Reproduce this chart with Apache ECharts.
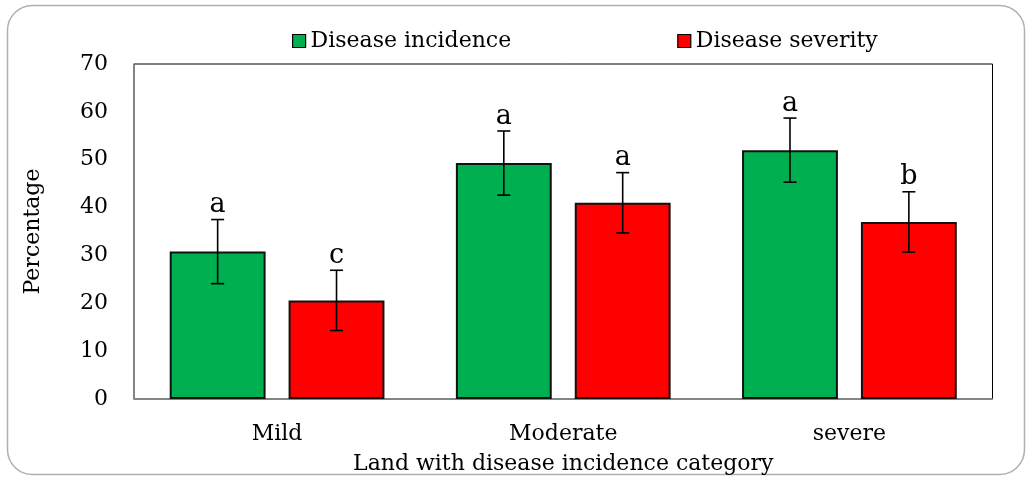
<!DOCTYPE html>
<html>
<head>
<meta charset="utf-8">
<script src="https://cdn.jsdelivr.net/npm/echarts@6/dist/echarts.min.js"></script>
<style>html,body{margin:0;padding:0;background:#fff;}#c{width:1032px;height:478px;}</style>
</head>
<body>
<div id="c"></div>
<script>
const categories = ['Mild', 'Moderate', 'severe'];
const seriesNames = ['Disease incidence', 'Disease severity'];
const incidence = [30.8, 49.3, 52.0];
const severity = [20.6, 41.0, 37.0];
const incidenceErr = [6.7, 6.7, 6.7];
const severityErr = [6.3, 6.3, 6.3];
const incidenceLetters = ['a', 'a', 'a'];
const severityLetters = ['c', 'a', 'b'];
const yTicks = [0, 10, 20, 30, 40, 50, 60, 70];

const FONT = 'DejaVu Serif';
const BAR_W = 0.335, BAR_GAP = 0.24;

function errSeries(vals, errs, letters, side) {
  return {
    type: 'custom',
    z: 5,
    encode: { x: 0, y: 1 },
    data: vals.map((v, i) => [i, v, errs[i]]),
    renderItem: function (params, api) {
      const i = api.value(0), v = api.value(1), e = api.value(2);
      const band = api.size([1, 0])[0];
      const bw = band * BAR_W;
      const off = side * (bw + bw * BAR_GAP) / 2;
      const x = api.coord([i, v])[0] + off;
      const hi = api.coord([i, v + e])[1];
      const lo = api.coord([i, v - e])[1];
      const cap = 6.5;
      const st = { stroke: '#000', lineWidth: 1.6 };
      return {
        type: 'group',
        children: [
          { type: 'line', shape: { x1: x, y1: hi, x2: x, y2: lo }, style: st },
          { type: 'line', shape: { x1: x - cap, y1: hi, x2: x + cap, y2: hi }, style: st },
          { type: 'line', shape: { x1: x - cap, y1: lo, x2: x + cap, y2: lo }, style: st },
          { type: 'text', x: x, y: hi - 1, style: { text: letters[params.dataIndex], fontFamily: FONT, fontSize: 27, fill: '#000', align: 'center', verticalAlign: 'bottom' } }
        ]
      };
    }
  };
}

const chart = echarts.init(document.getElementById('c'));
chart.setOption({
  animation: false,
  backgroundColor: '#fff',
  graphic: [{
    type: 'rect', z: -10,
    shape: { x: 7.5, y: 5.5, width: 1017, height: 469, r: 25 },
    style: { fill: 'none', stroke: '#b0b0b0', lineWidth: 1.5 }
  }],
  legend: {
    data: seriesNames,
    left: 287, top: 25,
    itemWidth: 13, itemHeight: 13, itemGap: 166,
    icon: 'rect',
    itemStyle: { borderColor: '#000', borderWidth: 1.2 },
    textStyle: { fontFamily: FONT, fontSize: 22, color: '#000' }
  },
  grid: {
    left: 134, right: 39.5, top: 64, bottom: 79,
    containLabel: false, outerBoundsMode: 'none',
    show: true, borderColor: '#000', borderWidth: 1, backgroundColor: '#fff'
  },
  xAxis: {
    type: 'category',
    data: categories,
    name: 'Land with disease incidence category',
    nameLocation: 'middle', nameGap: 54,
    nameTextStyle: { fontFamily: FONT, fontSize: 22, color: '#000' },
    axisLine: { lineStyle: { color: '#868686', width: 1.5 } },
    axisTick: { show: false },
    axisLabel: { fontFamily: FONT, fontSize: 22, color: '#000', margin: 24 }
  },
  yAxis: {
    type: 'value',
    min: yTicks[0], max: yTicks[yTicks.length - 1], interval: 10,
    name: 'Percentage',
    nameLocation: 'middle', nameGap: 90, nameRotate: 90,
    nameTextStyle: { fontFamily: FONT, fontSize: 22, color: '#000' },
    axisLine: { show: true, lineStyle: { color: '#868686', width: 1.5 } },
    axisTick: { show: false },
    splitLine: { show: false },
    axisLabel: { fontFamily: FONT, fontSize: 22, color: '#000', margin: 26 }
  },
  series: [
    {
      name: seriesNames[0], type: 'bar', data: incidence,
      barWidth: (BAR_W * 100) + '%', barGap: (BAR_GAP * 100) + '%',
      itemStyle: { color: '#00B050', borderColor: '#111', borderWidth: 2 }
    },
    {
      name: seriesNames[1], type: 'bar', data: severity,
      barWidth: (BAR_W * 100) + '%', barGap: (BAR_GAP * 100) + '%',
      itemStyle: { color: '#FF0000', borderColor: '#111', borderWidth: 2 }
    },
    errSeries(incidence, incidenceErr, incidenceLetters, -1),
    errSeries(severity, severityErr, severityLetters, 1)
  ]
});
</script>
</body>
</html>
